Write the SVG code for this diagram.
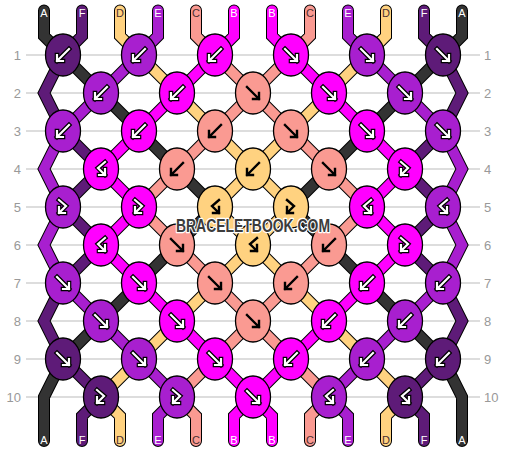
<svg xmlns="http://www.w3.org/2000/svg" xmlns:xlink="http://www.w3.org/1999/xlink" width="506" height="452" viewBox="0 0 506 452">
<style>
.grid line{stroke:#bbb;stroke-width:1.2}
.rn{font-family:"Liberation Sans",Arial,sans-serif;font-size:13px;fill:#999}
.th path{fill:none;stroke-linecap:round;stroke-linejoin:miter}
.th .o{stroke:#000;stroke-width:12}
.th .c{stroke-width:10}
.sA{stroke:#333333}.sF{stroke:#5e1b78}.sD{stroke:#ffd280}.sE{stroke:#a81fcf}.sC{stroke:#fa9a92}.sB{stroke:#ff00ff}
.knot ellipse{stroke:#000;stroke-width:1.3}
.fA{fill:#333333}.fF{fill:#5e1b78}.fD{fill:#ffd280}.fE{fill:#a81fcf}.fC{fill:#fa9a92}.fB{fill:#ff00ff}
.ar{fill:none;stroke-linejoin:miter}
.ao{stroke:#000;stroke-width:4.6;stroke-linecap:square}
.aw{stroke:#fff;stroke-width:2.2;stroke-linecap:square}
.ab{stroke:#000;stroke-width:2.4;stroke-linecap:square}
.lbl{font-family:"Liberation Sans",Arial,sans-serif;font-size:11px;text-anchor:middle}
.lw{fill:#fff}.ld{fill:#4a3030}
.wm{font-family:"Liberation Sans",Arial,sans-serif;font-weight:bold;font-size:17.5px;fill:#3c3c3c;stroke:#fff;stroke-width:2.5;paint-order:stroke;stroke-linejoin:round}
</style>
<defs>
<path id="fw" d="M-6 -6L6 6M6 0V6H0"/>
<path id="bw" d="M6 -6L-6 6M-6 0V6H0"/>
<path id="fb" d="M-4 -7L3 -1L-4 6M-4 0V6H2"/>
<path id="bf" d="M4 -7L-3 -1L4 6M4 0V6H-2"/>
<g id="Wfw" class="ar"><use href="#fw" class="ao"/><use href="#fw" class="aw"/></g>
<g id="Wbw" class="ar"><use href="#bw" class="ao"/><use href="#bw" class="aw"/></g>
<g id="Wfb" class="ar"><use href="#fb" class="ao"/><use href="#fb" class="aw"/></g>
<g id="Wbf" class="ar"><use href="#bf" class="ao"/><use href="#bf" class="aw"/></g>
<g id="Kfw" class="ar"><use href="#fw" class="ab"/></g>
<g id="Kbw" class="ar"><use href="#bw" class="ab"/></g>
<g id="Kfb" class="ar"><use href="#fb" class="ab"/></g>
<g id="Kbf" class="ar"><use href="#bf" class="ab"/></g>
</defs>
<rect width="506" height="452" fill="#fff"/>
<g id="rows" class="grid">
<line x1="26" y1="55" x2="480" y2="55"/><line x1="26" y1="93" x2="480" y2="93"/><line x1="26" y1="131" x2="480" y2="131"/><line x1="26" y1="169" x2="480" y2="169"/><line x1="26" y1="207" x2="480" y2="207"/><line x1="26" y1="245" x2="480" y2="245"/><line x1="26" y1="283" x2="480" y2="283"/><line x1="26" y1="321" x2="480" y2="321"/><line x1="26" y1="359" x2="480" y2="359"/><line x1="26" y1="397" x2="480" y2="397"/>
</g>
<g id="rownumbers" class="rn">
<g text-anchor="end">
<text x="21" y="60">1</text><text x="21" y="98">2</text><text x="21" y="136">3</text><text x="21" y="174">4</text><text x="21" y="212">5</text><text x="21" y="250">6</text><text x="21" y="288">7</text><text x="21" y="326">8</text><text x="21" y="364">9</text><text x="21" y="402">10</text>
</g>
<g text-anchor="start">
<text x="484" y="60">1</text><text x="484" y="98">2</text><text x="484" y="136">3</text><text x="484" y="174">4</text><text x="484" y="212">5</text><text x="484" y="250">6</text><text x="484" y="288">7</text><text x="484" y="326">8</text><text x="484" y="364">9</text><text x="484" y="402">10</text>
</g>
</g>
<g id="connectors" class="th">
<path class="o" d="M44 10.5V36L63 55M462 10.5V36L443 55M63 55L101 93M443 55L405 93M101 93L139 131M405 93L367 131M139 131L177 169M367 131L329 169M177 169L215 207M329 169L291 207M215 207L177 245M291 207L329 245M177 245L139 283M329 245L367 283M139 283L101 321M367 283L405 321M101 321L63 359M405 321L443 359M63 359L44 397V441M443 359L462 397V441
M82 10.5V36L63 55M424 10.5V36L443 55M63 55L44 93L63 131M443 55L462 93L443 131M63 131L101 169M443 131L405 169M101 169L63 207M405 169L443 207M63 207L101 245M443 207L405 245M101 245L63 283M405 245L443 283M63 283L44 321L63 359M443 283L462 321L443 359M63 359L101 397M443 359L405 397M101 397L82 416V441M405 397L424 416V441
M120 10.5V36L139 55M386 10.5V36L367 55M139 55L177 93M367 55L329 93M177 93L215 131M329 93L291 131M215 131L253 169M291 131L253 169M253 169L215 207M253 169L291 207M215 207L253 245M291 207L253 245M253 245L215 283M253 245L291 283M215 283L177 321M291 283L329 321M177 321L139 359M329 321L367 359M139 359L101 397M367 359L405 397M101 397L120 416V441M405 397L386 416V441
M158 10.5V36L139 55M348 10.5V36L367 55M139 55L101 93M367 55L405 93M101 93L63 131M405 93L443 131M63 131L44 169L63 207M443 131L462 169L443 207M63 207L44 245L63 283M443 207L462 245L443 283M63 283L101 321M443 283L405 321M101 321L139 359M405 321L367 359M139 359L177 397M367 359L329 397M177 397L158 416V441M329 397L348 416V441
M196 10.5V36L215 55M310 10.5V36L291 55M215 55L253 93M291 55L253 93M253 93L215 131M253 93L291 131M215 131L177 169M291 131L329 169M177 169L139 207M329 169L367 207M139 207L177 245M367 207L329 245M177 245L215 283M329 245L291 283M215 283L253 321M291 283L253 321M253 321L215 359M253 321L291 359M215 359L177 397M291 359L329 397M177 397L196 416V441M329 397L310 416V441
M234 10.5V36L215 55M272 10.5V36L291 55M215 55L177 93M291 55L329 93M177 93L139 131M329 93L367 131M139 131L101 169M367 131L405 169M101 169L139 207M405 169L367 207M139 207L101 245M367 207L405 245M101 245L139 283M405 245L367 283M139 283L177 321M367 283L329 321M177 321L215 359M329 321L291 359M215 359L253 397M291 359L253 397M253 397L234 416V441M253 397L272 416V441"/>
<path class="c sA" d="M44 10.5V36L63 55M462 10.5V36L443 55M63 55L101 93M443 55L405 93M101 93L139 131M405 93L367 131M139 131L177 169M367 131L329 169M177 169L215 207M329 169L291 207M215 207L177 245M291 207L329 245M177 245L139 283M329 245L367 283M139 283L101 321M367 283L405 321M101 321L63 359M405 321L443 359M63 359L44 397V441M443 359L462 397V441"/>
<path class="c sF" d="M82 10.5V36L63 55M424 10.5V36L443 55M63 55L44 93L63 131M443 55L462 93L443 131M63 131L101 169M443 131L405 169M101 169L63 207M405 169L443 207M63 207L101 245M443 207L405 245M101 245L63 283M405 245L443 283M63 283L44 321L63 359M443 283L462 321L443 359M63 359L101 397M443 359L405 397M101 397L82 416V441M405 397L424 416V441"/>
<path class="c sD" d="M120 10.5V36L139 55M386 10.5V36L367 55M139 55L177 93M367 55L329 93M177 93L215 131M329 93L291 131M215 131L253 169M291 131L253 169M253 169L215 207M253 169L291 207M215 207L253 245M291 207L253 245M253 245L215 283M253 245L291 283M215 283L177 321M291 283L329 321M177 321L139 359M329 321L367 359M139 359L101 397M367 359L405 397M101 397L120 416V441M405 397L386 416V441"/>
<path class="c sE" d="M158 10.5V36L139 55M348 10.5V36L367 55M139 55L101 93M367 55L405 93M101 93L63 131M405 93L443 131M63 131L44 169L63 207M443 131L462 169L443 207M63 207L44 245L63 283M443 207L462 245L443 283M63 283L101 321M443 283L405 321M101 321L139 359M405 321L367 359M139 359L177 397M367 359L329 397M177 397L158 416V441M329 397L348 416V441"/>
<path class="c sC" d="M196 10.5V36L215 55M310 10.5V36L291 55M215 55L253 93M291 55L253 93M253 93L215 131M253 93L291 131M215 131L177 169M291 131L329 169M177 169L139 207M329 169L367 207M139 207L177 245M367 207L329 245M177 245L215 283M329 245L291 283M215 283L253 321M291 283L253 321M253 321L215 359M253 321L291 359M215 359L177 397M291 359L329 397M177 397L196 416V441M329 397L310 416V441"/>
<path class="c sB" d="M234 10.5V36L215 55M272 10.5V36L291 55M215 55L177 93M291 55L329 93M177 93L139 131M329 93L367 131M139 131L101 169M367 131L405 169M101 169L139 207M405 169L367 207M139 207L101 245M367 207L405 245M101 245L139 283M405 245L367 283M139 283L177 321M367 283L329 321M177 321L215 359M329 321L291 359M215 359L253 397M291 359L253 397M253 397L234 416V441M253 397L272 416V441"/>
</g>
<g id="thread-labels" class="lbl">
<text class="lw" x="44" y="17">A</text><text class="lw" x="82" y="17">F</text><text class="ld" x="120" y="17">D</text><text class="lw" x="158" y="17">E</text><text class="ld" x="196" y="17">C</text><text class="lw" x="234" y="17">B</text><text class="lw" x="272" y="17">B</text><text class="ld" x="310" y="17">C</text><text class="lw" x="348" y="17">E</text><text class="ld" x="386" y="17">D</text><text class="lw" x="424" y="17">F</text><text class="lw" x="462" y="17">A</text>
<text class="lw" x="44" y="444">A</text><text class="lw" x="82" y="444">F</text><text class="ld" x="120" y="444">D</text><text class="lw" x="158" y="444">E</text><text class="ld" x="196" y="444">C</text><text class="lw" x="234" y="444">B</text><text class="lw" x="272" y="444">B</text><text class="ld" x="310" y="444">C</text><text class="lw" x="348" y="444">E</text><text class="ld" x="386" y="444">D</text><text class="lw" x="424" y="444">F</text><text class="lw" x="462" y="444">A</text>
</g>
<g id="knots" class="knot">
<g id="k1-1"><ellipse cx="63" cy="55" rx="17.5" ry="21" class="fF"/><use href="#Wbw" x="63" y="55"/></g>
<g id="k1-2"><ellipse cx="139" cy="55" rx="17.5" ry="21" class="fE"/><use href="#Wbw" x="139" y="55"/></g>
<g id="k1-3"><ellipse cx="215" cy="55" rx="17.5" ry="21" class="fB"/><use href="#Wbw" x="215" y="55"/></g>
<g id="k1-4"><ellipse cx="291" cy="55" rx="17.5" ry="21" class="fB"/><use href="#Wfw" x="291" y="55"/></g>
<g id="k1-5"><ellipse cx="367" cy="55" rx="17.5" ry="21" class="fE"/><use href="#Wfw" x="367" y="55"/></g>
<g id="k1-6"><ellipse cx="443" cy="55" rx="17.5" ry="21" class="fF"/><use href="#Wfw" x="443" y="55"/></g>
<g id="k2-1"><ellipse cx="101" cy="93" rx="17.5" ry="21" class="fE"/><use href="#Wbw" x="101" y="93"/></g>
<g id="k2-2"><ellipse cx="177" cy="93" rx="17.5" ry="21" class="fB"/><use href="#Wbw" x="177" y="93"/></g>
<g id="k2-3"><ellipse cx="253" cy="93" rx="17.5" ry="21" class="fC"/><use href="#Kfw" x="253" y="93"/></g>
<g id="k2-4"><ellipse cx="329" cy="93" rx="17.5" ry="21" class="fB"/><use href="#Wfw" x="329" y="93"/></g>
<g id="k2-5"><ellipse cx="405" cy="93" rx="17.5" ry="21" class="fE"/><use href="#Wfw" x="405" y="93"/></g>
<g id="k3-1"><ellipse cx="63" cy="131" rx="17.5" ry="21" class="fE"/><use href="#Wbw" x="63" y="131"/></g>
<g id="k3-2"><ellipse cx="139" cy="131" rx="17.5" ry="21" class="fB"/><use href="#Wbw" x="139" y="131"/></g>
<g id="k3-3"><ellipse cx="215" cy="131" rx="17.5" ry="21" class="fC"/><use href="#Kbw" x="215" y="131"/></g>
<g id="k3-4"><ellipse cx="291" cy="131" rx="17.5" ry="21" class="fC"/><use href="#Kfw" x="291" y="131"/></g>
<g id="k3-5"><ellipse cx="367" cy="131" rx="17.5" ry="21" class="fB"/><use href="#Wfw" x="367" y="131"/></g>
<g id="k3-6"><ellipse cx="443" cy="131" rx="17.5" ry="21" class="fE"/><use href="#Wfw" x="443" y="131"/></g>
<g id="k4-1"><ellipse cx="101" cy="169" rx="17.5" ry="21" class="fB"/><use href="#Wbf" x="101" y="169"/></g>
<g id="k4-2"><ellipse cx="177" cy="169" rx="17.5" ry="21" class="fC"/><use href="#Kbw" x="177" y="169"/></g>
<g id="k4-3"><ellipse cx="253" cy="169" rx="17.5" ry="21" class="fD"/><use href="#Kbw" x="253" y="169"/></g>
<g id="k4-4"><ellipse cx="329" cy="169" rx="17.5" ry="21" class="fC"/><use href="#Kfw" x="329" y="169"/></g>
<g id="k4-5"><ellipse cx="405" cy="169" rx="17.5" ry="21" class="fB"/><use href="#Wfb" x="405" y="169"/></g>
<g id="k5-1"><ellipse cx="63" cy="207" rx="17.5" ry="21" class="fE"/><use href="#Wfb" x="63" y="207"/></g>
<g id="k5-2"><ellipse cx="139" cy="207" rx="17.5" ry="21" class="fB"/><use href="#Wfb" x="139" y="207"/></g>
<g id="k5-3"><ellipse cx="215" cy="207" rx="17.5" ry="21" class="fD"/><use href="#Kbf" x="215" y="207"/></g>
<g id="k5-4"><ellipse cx="291" cy="207" rx="17.5" ry="21" class="fD"/><use href="#Kfb" x="291" y="207"/></g>
<g id="k5-5"><ellipse cx="367" cy="207" rx="17.5" ry="21" class="fB"/><use href="#Wbf" x="367" y="207"/></g>
<g id="k5-6"><ellipse cx="443" cy="207" rx="17.5" ry="21" class="fE"/><use href="#Wbf" x="443" y="207"/></g>
<g id="k6-1"><ellipse cx="101" cy="245" rx="17.5" ry="21" class="fB"/><use href="#Wbf" x="101" y="245"/></g>
<g id="k6-2"><ellipse cx="177" cy="245" rx="17.5" ry="21" class="fC"/><use href="#Kfw" x="177" y="245"/></g>
<g id="k6-3"><ellipse cx="253" cy="245" rx="17.5" ry="21" class="fD"/><use href="#Kbf" x="253" y="245"/></g>
<g id="k6-4"><ellipse cx="329" cy="245" rx="17.5" ry="21" class="fC"/><use href="#Kbw" x="329" y="245"/></g>
<g id="k6-5"><ellipse cx="405" cy="245" rx="17.5" ry="21" class="fB"/><use href="#Wfb" x="405" y="245"/></g>
<g id="k7-1"><ellipse cx="63" cy="283" rx="17.5" ry="21" class="fE"/><use href="#Wfw" x="63" y="283"/></g>
<g id="k7-2"><ellipse cx="139" cy="283" rx="17.5" ry="21" class="fB"/><use href="#Wfw" x="139" y="283"/></g>
<g id="k7-3"><ellipse cx="215" cy="283" rx="17.5" ry="21" class="fC"/><use href="#Kfw" x="215" y="283"/></g>
<g id="k7-4"><ellipse cx="291" cy="283" rx="17.5" ry="21" class="fC"/><use href="#Kbw" x="291" y="283"/></g>
<g id="k7-5"><ellipse cx="367" cy="283" rx="17.5" ry="21" class="fB"/><use href="#Wbw" x="367" y="283"/></g>
<g id="k7-6"><ellipse cx="443" cy="283" rx="17.5" ry="21" class="fE"/><use href="#Wbw" x="443" y="283"/></g>
<g id="k8-1"><ellipse cx="101" cy="321" rx="17.5" ry="21" class="fE"/><use href="#Wfw" x="101" y="321"/></g>
<g id="k8-2"><ellipse cx="177" cy="321" rx="17.5" ry="21" class="fB"/><use href="#Wfw" x="177" y="321"/></g>
<g id="k8-3"><ellipse cx="253" cy="321" rx="17.5" ry="21" class="fC"/><use href="#Kfw" x="253" y="321"/></g>
<g id="k8-4"><ellipse cx="329" cy="321" rx="17.5" ry="21" class="fB"/><use href="#Wbw" x="329" y="321"/></g>
<g id="k8-5"><ellipse cx="405" cy="321" rx="17.5" ry="21" class="fE"/><use href="#Wbw" x="405" y="321"/></g>
<g id="k9-1"><ellipse cx="63" cy="359" rx="17.5" ry="21" class="fF"/><use href="#Wfw" x="63" y="359"/></g>
<g id="k9-2"><ellipse cx="139" cy="359" rx="17.5" ry="21" class="fE"/><use href="#Wfw" x="139" y="359"/></g>
<g id="k9-3"><ellipse cx="215" cy="359" rx="17.5" ry="21" class="fB"/><use href="#Wfw" x="215" y="359"/></g>
<g id="k9-4"><ellipse cx="291" cy="359" rx="17.5" ry="21" class="fB"/><use href="#Wbw" x="291" y="359"/></g>
<g id="k9-5"><ellipse cx="367" cy="359" rx="17.5" ry="21" class="fE"/><use href="#Wbw" x="367" y="359"/></g>
<g id="k9-6"><ellipse cx="443" cy="359" rx="17.5" ry="21" class="fF"/><use href="#Wbw" x="443" y="359"/></g>
<g id="k10-1"><ellipse cx="101" cy="397" rx="17.5" ry="21" class="fF"/><use href="#Wfb" x="101" y="397"/></g>
<g id="k10-2"><ellipse cx="177" cy="397" rx="17.5" ry="21" class="fE"/><use href="#Wfb" x="177" y="397"/></g>
<g id="k10-3"><ellipse cx="253" cy="397" rx="17.5" ry="21" class="fB"/><use href="#Wfw" x="253" y="397"/></g>
<g id="k10-4"><ellipse cx="329" cy="397" rx="17.5" ry="21" class="fE"/><use href="#Wbf" x="329" y="397"/></g>
<g id="k10-5"><ellipse cx="405" cy="397" rx="17.5" ry="21" class="fF"/><use href="#Wbf" x="405" y="397"/></g>
</g>
<text id="watermark" class="wm" x="253" y="232" text-anchor="middle" textLength="154" lengthAdjust="spacingAndGlyphs">BRACELETBOOK.COM</text>
</svg>
